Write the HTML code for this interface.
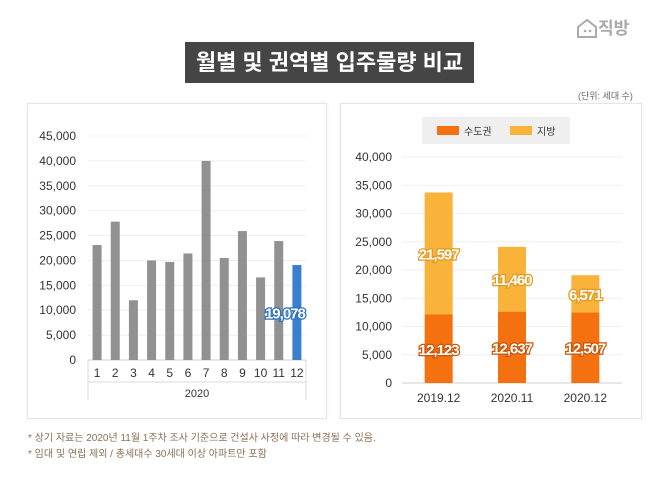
<!DOCTYPE html>
<html><head><meta charset="utf-8"><style>
body{margin:0;width:658px;height:498px;background:#fff;overflow:hidden;font-family:"Liberation Sans","Noto Sans CJK KR",sans-serif;}
.panel{position:absolute;background:#fff;border:1px solid #e6e6e6;box-shadow:0 0 3px #eee;}
</style></head><body>
<div style="position:absolute;left:576px;top:14px;color:#aaa;font:bold 17px 'Liberation Sans','Noto Sans CJK KR',sans-serif;">
<svg width="22" height="22" viewBox="0 0 22 22" style="vertical-align:-5px"><path d="M2 10 L11 3 L20 10 L20 20 L2 20 Z" fill="none" stroke="#aaa" stroke-width="2"/><circle cx="9" cy="14" r="1.3" fill="#aaa"/><circle cx="14" cy="14" r="1.3" fill="#aaa"/></svg>직방</div>
<div style="position:absolute;left:185px;top:42px;width:289px;height:41px;background:#454545;color:#fff;font:bold 22px 'Liberation Sans','Noto Sans CJK KR',sans-serif;line-height:41px;text-align:center;">월별 및 권역별 입주물량 비교</div>
<div style="position:absolute;left:578px;top:89px;font-size:9px;color:#666;">(단위: 세대 수)</div>
<div class="panel" style="left:27px;top:103px;width:298px;height:314px;"></div>
<div class="panel" style="left:340px;top:103px;width:300px;height:314px;"></div>
<svg id="c" width="658" height="498" style="position:absolute;left:0;top:0" font-family="Liberation Sans, Noto Sans CJK KR, sans-serif"></svg>
<div style="position:absolute;left:28px;top:429px;font-size:10px;color:#8a6f55;">* 상기 자료는 2020년 11월 1주차 조사 기준으로 건설사 사정에 따라 변경될 수 있음.</div>
<div style="position:absolute;left:28px;top:445px;font-size:10px;color:#8a6f55;">* 임대 및 연립 제외 / 총세대수 30세대 이상 아파트만 포함</div>
<script>
const months=["1","2","3","4","5","6","7","8","9","10","11","12"];
const monthly=[23100,27800,12000,20000,19700,21400,40000,20500,25900,16600,23900,19078];
const leftTicks=[0,5000,10000,15000,20000,25000,30000,35000,40000,45000];
const periods=["2019.12","2020.11","2020.12"];
const capital=[12123,12637,12507];
const regional=[21597,11460,6571];
const rightTicks=[0,5000,10000,15000,20000,25000,30000,35000,40000];
const NS="http://www.w3.org/2000/svg",svg=document.getElementById('c');
function el(t,a,txt){const e=document.createElementNS(NS,t);for(const k in a)e.setAttribute(k,a[k]);if(txt!=null)e.textContent=txt;svg.appendChild(e);return e;}
const fmt=v=>v.toLocaleString('en-US');
// left chart
const ly=v=>360-v*(224/45000), lx0=88,lx1=306,lw=(lx1-lx0)/12, lx=i=>lx0+lw*(i+0.5);
leftTicks.forEach(t=>{
 let g=el('line',{x1:lx0,x2:lx1,y1:ly(t),y2:ly(t),stroke:t?'#efefef':'#cfcfcf'});
 
 let l=el('text',{x:76,y:ly(t)+4,'text-anchor':'end','font-size':12,fill:'#333'},fmt(t));
 
});
[lx0,lx1].forEach(x=>{let v=el('line',{x1:x,x2:x,y1:360,y2:400,stroke:'#d8d8d8'});});
let hl=el('line',{x1:lx0,x2:lx1,y1:382,y2:382,stroke:'#d8d8d8'});
monthly.forEach((v,i)=>{
 let b=el('rect',{x:lx(i)-4.5,y:ly(v),width:9,height:360-ly(v),fill:i==11?'#3a7fcf':'#919191'});
 
 let t=el('text',{x:lx(i),y:377,'text-anchor':'middle','font-size':12,fill:'#333'},months[i]);
 
});
let yr=el('text',{x:(lx0+lx1)/2,y:397,'text-anchor':'middle','font-size':11,fill:'#333'},'2020');

let dl=el('text',{x:lx(11)-12,y:ly(monthly[11]/2)+6,'text-anchor':'middle','font-size':15,'font-weight':'bold',fill:'#fff',stroke:'#2a6fbf','stroke-width':2.5,'paint-order':'stroke',style:'letter-spacing:-1px'},fmt(monthly[11]));

// right chart
const ry=v=>383-v*(226/40000), rx0=402,rx1=622,rw=(rx1-rx0)/3, rx=i=>rx0+rw*(i+0.5);
rightTicks.forEach(t=>{
 let g=el('line',{x1:rx0,x2:rx1,y1:ry(t),y2:ry(t),stroke:t?'#efefef':'#cfcfcf'});
 
 let l=el('text',{x:392,y:ry(t)+4,'text-anchor':'end','font-size':12,fill:'#333'},fmt(t));
 
});
periods.forEach((p,i)=>{
 const c=capital[i],r=regional[i];
 let b1=el('rect',{x:rx(i)-14,y:ry(c),width:28,height:ry(0)-ry(c),fill:'#f5700f'});
 
 let b2=el('rect',{x:rx(i)-14,y:ry(c+r),width:28,height:ry(c)-ry(c+r),fill:'#f9b23a'});
 
 let t1=el('text',{x:rx(i),y:ry(c/2)+6,'text-anchor':'middle','font-size':15,'font-weight':'bold',fill:'#fff',stroke:'#c9560a','stroke-width':2.5,'paint-order':'stroke',style:'letter-spacing:-1px'},fmt(c));
 
 let t2=el('text',{x:rx(i),y:ry(c+r/2)+6,'text-anchor':'middle','font-size':15,'font-weight':'bold',fill:'#fff',stroke:'#e39a20','stroke-width':2.5,'paint-order':'stroke',style:'letter-spacing:-1px'},fmt(r));
 
 let xl=el('text',{x:rx(i),y:402,'text-anchor':'middle','font-size':12,fill:'#333'},p);
 
});
let lg=el('rect',{x:422,y:117,width:148,height:27,fill:'#efefef'});
let s1=el('rect',{x:437,y:126,width:22,height:9,fill:'#f5700f'});
let l1=el('text',{x:464,y:135,'font-size':10,fill:'#333'},'수도권');
let s2=el('rect',{x:510,y:126,width:22,height:9,fill:'#f9b23a'});
let l2=el('text',{x:537,y:135,'font-size':10,fill:'#333'},'지방');
</script>
</body></html>
